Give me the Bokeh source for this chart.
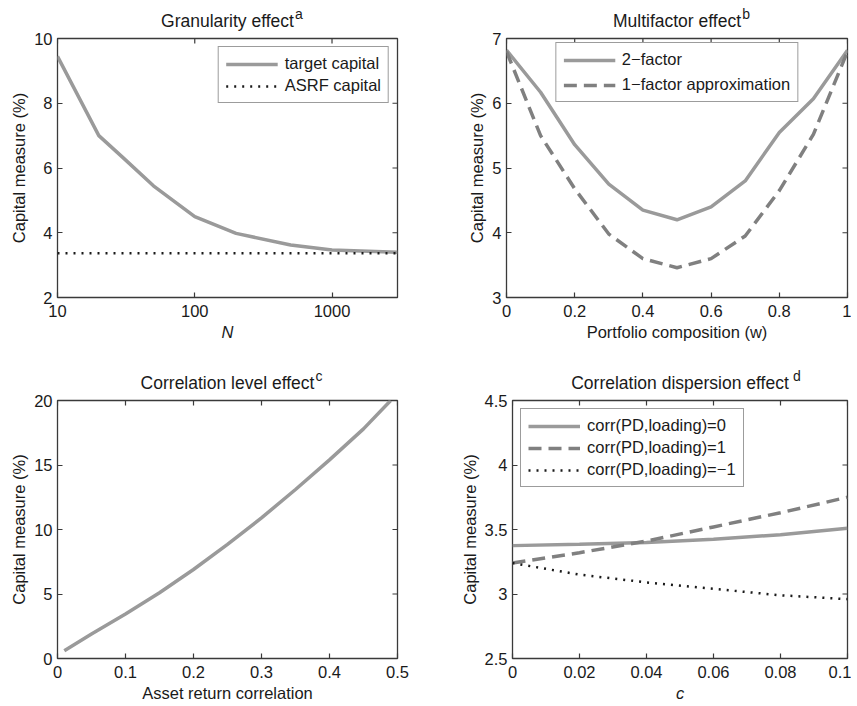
import math
from bokeh.plotting import figure
from bokeh.layouts import column, row
from bokeh.models import Range1d, FixedTicker, Title
from bokeh.embed import file_html
from bokeh.resources import INLINE

# ---------------- data ----------------
# Panel a: granularity effect
N_vals = [10, 20, 30, 50, 100, 200, 500, 1000, 3000]
target_capital = [9.45, 7.0, 6.32, 5.45, 4.5, 3.98, 3.62, 3.47, 3.40]
asrf_N = [10, 3000]
asrf_capital = [3.37, 3.37]

# Panel b: multifactor effect
w_vals = [0.0, 0.1, 0.2, 0.3, 0.4, 0.5, 0.6, 0.7, 0.8, 0.9, 1.0]
two_factor = [6.82, 6.17, 5.36, 4.75, 4.35, 4.2, 4.4, 4.8, 5.55, 6.07, 6.82]
one_factor = [6.8, 5.5, 4.68, 3.98, 3.6, 3.46, 3.6, 3.95, 4.65, 5.52, 6.8]

# Panel c: correlation level effect
rho_vals = [0.01, 0.05, 0.1, 0.15, 0.2, 0.25, 0.3, 0.35, 0.4, 0.45, 0.49]
level_capital = [0.6, 1.9, 3.45, 5.1, 6.9, 8.85, 10.9, 13.1, 15.4, 17.8, 20.0]

# Panel d: correlation dispersion effect
c_vals = [0.0, 0.02, 0.04, 0.06, 0.08, 0.1]
corr_0 = [3.375, 3.385, 3.40, 3.425, 3.46, 3.51]
corr_p1 = [3.24, 3.32, 3.41, 3.52, 3.63, 3.75]
corr_m1 = [3.24, 3.15, 3.09, 3.04, 2.99, 2.96]

# ticks
ticks_a_x = [10, 100, 1000]
ticks_a_y = [2, 4, 6, 8, 10]
ticks_b_x = [0, 0.2, 0.4, 0.6, 0.8, 1]
ticks_b_y = [3, 4, 5, 6, 7]
ticks_c_x = [0, 0.1, 0.2, 0.3, 0.4, 0.5]
ticks_c_y = [0, 5, 10, 15, 20]
ticks_d_x = [0, 0.02, 0.04, 0.06, 0.08, 0.1]
ticks_d_y = [2.5, 3, 3.5, 4, 4.5]

FONT = "Liberation Sans"
FS = "16.5px"
TFS = 17.5
EDGE = "#3a3a3a"
TXT = "#1a1a1a"
GREY = "#9a9a9a"
DGREY = "#808080"
DOT = "#1a1a1a"

# Arial / Liberation Sans advance widths (em) for title width estimate
ARIAL_W = {
    'A': .667, 'C': .722, 'G': .778, 'M': .833, ' ': .278, 'a': .556,
    'c': .5, 'd': .556, 'e': .556, 'f': .278, 'i': .222, 'l': .222,
    'n': .556, 'o': .556, 'p': .556, 'r': .333, 's': .5, 't': .278,
    'u': .556, 'v': .5, 'y': .5,
}


def text_width(s, size):
    return sum(ARIAL_W.get(ch, .556) for ch in s) * size


def style_axis(ax, ticks, label_standoff):
    ax.ticker = FixedTicker(ticks=ticks)
    ax.major_label_overrides = {t: "%g" % t for t in ticks}
    ax.axis_line_color = None
    ax.major_tick_in = 5
    ax.major_tick_out = 0
    ax.major_tick_line_color = EDGE
    ax.major_tick_line_width = 1.2
    ax.minor_tick_line_color = None
    ax.major_label_text_font = FONT
    ax.major_label_text_font_size = FS
    ax.major_label_text_color = TXT
    ax.major_label_standoff = label_standoff
    ax.axis_label_text_font = FONT
    ax.axis_label_text_font_size = FS
    ax.axis_label_text_font_style = "normal"
    ax.axis_label_text_color = TXT
    ax.axis_label_standoff = 3


def make_fig(width, height, bl, br, bt, bb, title, sup, xr, yr, xt, yt,
             xlabel, ylabel, log_x=False, x_italic=False):
    frame_w = width - bl - br
    sx = frame_w / 2 + text_width(title, TFS) / 2 + 1
    # superscript letter: outer title, pulled down (negative standoff)
    sup_title = Title(text=sup, text_font=FONT, text_font_size="14px",
                      text_font_style="normal", text_color=TXT,
                      align="left", offset=sx, standoff=-42)
    p = figure(width=width, height=height, output_backend="svg",
               toolbar_location=None, x_range=xr, y_range=yr,
               x_axis_type="log" if log_x else "linear",
               min_border_left=bl, min_border_right=br,
               min_border_top=bt, min_border_bottom=bb,
               background_fill_color="white", border_fill_color="white",
               title=sup_title)
    main_title = Title(text=title, text_font=FONT,
                       text_font_size="%gpx" % TFS, text_font_style="normal",
                       text_color=TXT, align="center", standoff=16)
    p.add_layout(main_title, "above")
    p.grid.visible = False
    p.outline_line_color = EDGE
    p.outline_line_width = 1.3
    style_axis(p.xaxis[0], xt, 7)
    style_axis(p.yaxis[0], yt, 5)
    p.xaxis[0].axis_label = xlabel
    p.yaxis[0].axis_label = ylabel
    if x_italic:
        p.xaxis[0].axis_label_text_font_style = "italic"

    # inner ticks on top and right edges (box on)
    p.ray(x=xt, y=[yr.end] * len(xt), length=5, length_units="screen",
          angle=-math.pi / 2, line_color=EDGE, line_width=1.2)
    p.ray(x=[xr.end] * len(yt), y=yt, length=5, length_units="screen",
          angle=math.pi, line_color=EDGE, line_width=1.2)
    return p


def style_legend(p, loc, margin=8, spacing=3):
    lg = p.legend[0]
    lg.location = loc
    lg.label_text_font = FONT
    lg.label_text_font_size = FS
    lg.label_text_color = TXT
    lg.border_line_color = EDGE
    lg.border_line_width = 1.2
    lg.background_fill_color = "white"
    lg.background_fill_alpha = 1.0
    lg.glyph_width = 52
    lg.glyph_height = 18
    lg.label_height = 18
    lg.spacing = spacing
    lg.padding = 7
    lg.margin = margin
    lg.label_standoff = 7


# Panel a
p1 = make_fig(457, 352, 57, 60, 37, 55, "Granularity effect", "a",
              Range1d(10, 3000), Range1d(2, 10), ticks_a_x, ticks_a_y,
              "N", "Capital measure (%)", log_x=True, x_italic=True)
p1.line(N_vals, target_capital, line_color=GREY, line_width=3.5,
        legend_label="target capital")
p1.line(asrf_N, asrf_capital, line_color=DOT, line_width=2.5,
        line_dash="2 6", legend_label="ASRF capital")
style_legend(p1, "top_right")

# Panel b
p2 = make_fig(394, 352, 49, 4, 37, 55, "Multifactor effect", "b",
              Range1d(0, 1), Range1d(3, 7), ticks_b_x, ticks_b_y,
              "Portfolio composition (w)", "Capital measure (%)")
p2.line(w_vals, two_factor, line_color=GREY, line_width=3.5,
        legend_label="2\u2212factor")
p2.line(w_vals, one_factor, line_color=DGREY, line_width=3.5,
        line_dash="13 7", legend_label="1\u2212factor approximation")
style_legend(p2, "top_center", margin=4, spacing=6)

# Panel c
p3 = make_fig(457, 352, 57, 60, 48, 44, "Correlation level effect", "c",
              Range1d(0, 0.5), Range1d(0, 20), ticks_c_x, ticks_c_y,
              "Asset return correlation", "Capital measure (%)")
p3.line(rho_vals, level_capital, line_color=GREY, line_width=3.5)

# Panel d
p4 = make_fig(394, 352, 49, 4, 48, 44, "Correlation dispersion effect", "d",
              Range1d(0, 0.1), Range1d(2.5, 4.5), ticks_d_x, ticks_d_y,
              "c", "Capital measure (%)", x_italic=True)
p4.line(c_vals, corr_0, line_color=GREY, line_width=3.5,
        legend_label="corr(PD,loading)=0")
p4.line(c_vals, corr_p1, line_color=DGREY, line_width=3.5,
        line_dash="13 7", legend_label="corr(PD,loading)=1")
p4.line(c_vals, corr_m1, line_color=DOT, line_width=2.5,
        line_dash="2 6", legend_label="corr(PD,loading)=\u22121")
style_legend(p4, "top_left")

layout = column(row(p1, p2), row(p3, p4))

open("out.html", "w").write(file_html(layout, INLINE))
